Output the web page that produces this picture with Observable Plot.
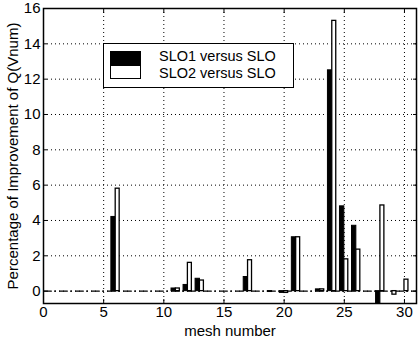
<!DOCTYPE html>
<html><head><meta charset="utf-8">
<script src="https://cdn.jsdelivr.net/npm/d3@7"></script>
<script src="https://cdn.jsdelivr.net/npm/@observablehq/plot@0.6"></script>
<style>
body{margin:0;background:#fff;font-family:"Liberation Sans",Arial,sans-serif;}
#wrap{position:relative;width:420px;height:339px;}
#legend{position:absolute;left:103px;top:43px;width:191px;height:45px;border:1.5px solid #000;background:#fff;box-sizing:border-box;font-size:14.5px;}
.sw{position:absolute;left:6px;width:31px;height:14px;border:1px solid #000;box-sizing:border-box;}
.lt{position:absolute;left:55px;line-height:17px;height:17px;white-space:nowrap;}
</style></head>
<body><div id="wrap"></div>
<script>
const meshes = [6, 11, 12, 13, 17, 19, 20, 21, 23, 24, 25, 26, 28, 29, 30];
const slo1 = [4.2, 0.15, 0.35, 0.7, 0.8, -0.05, -0.1, 3.05, 0.1, 12.5, 4.8, 3.7, -0.7, 0, 0];
const slo2 = [5.8, 0.15, 1.6, 0.6, 1.75, 0, -0.1, 3.05, 0.1, 15.3, 1.8, 2.35, 4.85, -0.2, 0.65];
const xTicks = [0, 5, 10, 15, 20, 25, 30];
const yTicks = [0, 2, 4, 6, 8, 10, 12, 14, 16];
const seriesNames = ["SLO1 versus SLO", "SLO2 versus SLO"];

const d1 = meshes.map((m, i) => ({x1: m - 0.36, x2: m, v: slo1[i]}));
const d2 = meshes.map((m, i) => ({x1: m, x2: m + 0.33, v: slo2[i]}));

const chart = Plot.plot({
  width: 420, height: 339,
  marginLeft: 43, marginRight: 4, marginTop: 8, marginBottom: 36,
  style: {fontFamily: "Liberation Sans, Arial, sans-serif", fontSize: "14px", color: "#000", background: "#fff"},
  x: {domain: [0, 31]},
  y: {domain: [-0.7, 16]},
  marks: [
    Plot.gridX(xTicks, {stroke: "#000", strokeOpacity: 1, strokeWidth: 1, strokeDasharray: "1,3"}),
    Plot.gridY(yTicks, {stroke: "#000", strokeOpacity: 1, strokeWidth: 1, strokeDasharray: "1,3"}),
    Plot.ruleY([0], {stroke: "#000", strokeWidth: 1.2, strokeDasharray: "8,3,2,3"}),
    Plot.rectY(d1, {x1: "x1", x2: "x2", y1: 0, y2: "v", fill: "#000", stroke: "#000", strokeWidth: 1}),
    Plot.rectY(d2, {x1: "x1", x2: "x2", y1: 0, y2: "v", fill: "#fff", stroke: "#000", strokeWidth: 1.3}),
    Plot.axisX(xTicks, {tickSize: -4, tickPadding: 7, fontSize: 15, label: "mesh number", labelAnchor: "center", labelArrow: "none", labelOffset: 32}),
    Plot.axisY(yTicks, {tickSize: -4, tickPadding: 7, fontSize: 15, label: "Percentage of Improvement of Q(Vnum)", labelAnchor: "center", labelArrow: "none", labelOffset: 36}),
    Plot.axisY(yTicks, {anchor: "right", tickSize: -4, tickFormat: () => "", label: null}),
    Plot.axisX(xTicks, {anchor: "top", tickSize: -4, tickFormat: () => "", label: null}),
    Plot.frame({stroke: "#000", strokeWidth: 1.5})
  ]
});
const wrap = document.getElementById("wrap");
wrap.appendChild(chart);

const lg = document.createElement("div");
lg.id = "legend";
seriesNames.forEach((n, i) => {
  const s = document.createElement("div");
  s.className = "sw";
  s.style.top = (7 + i * 14) + "px";
  s.style.background = i === 0 ? "#000" : "#fff";
  lg.appendChild(s);
  const t = document.createElement("div");
  t.className = "lt";
  t.style.top = (4 + i * 17) + "px";
  t.textContent = n;
  lg.appendChild(t);
});
wrap.appendChild(lg);
</script></body></html>
